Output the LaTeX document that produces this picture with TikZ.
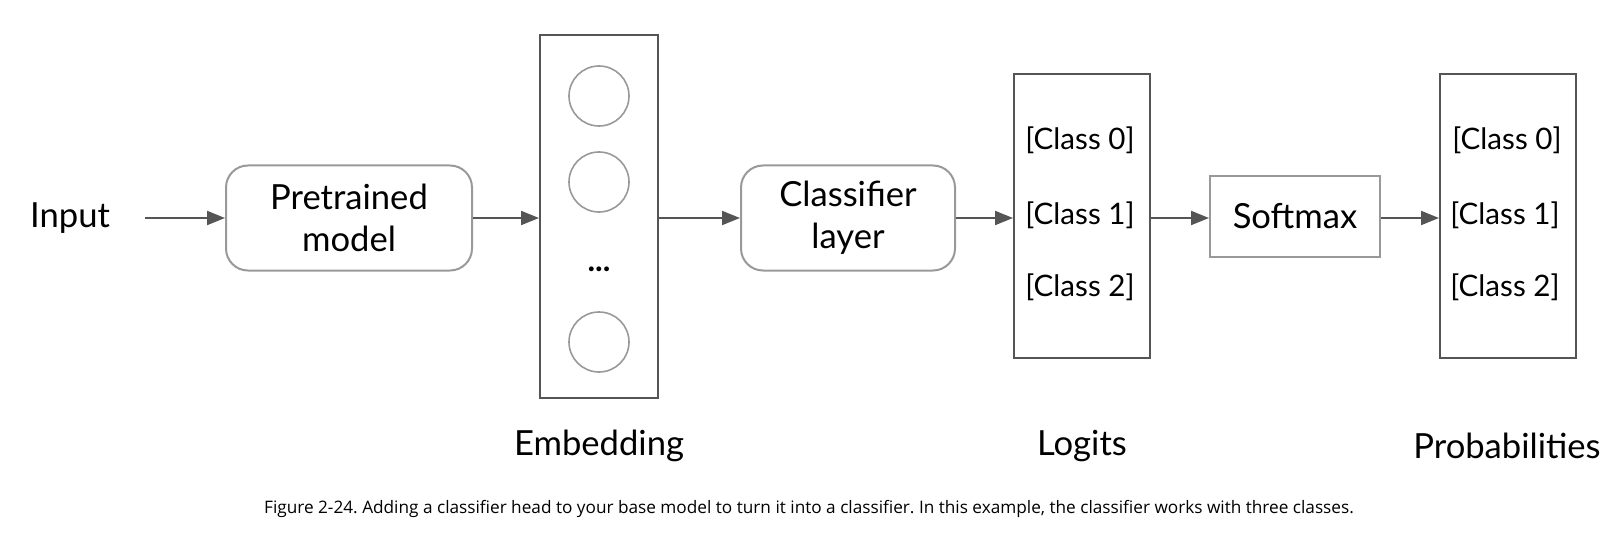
\documentclass[tikz,border=0pt]{standalone}
\usepackage{fontspec}
\setmainfont{Lato}
\newfontfamily\capfont{Open Sans}
\usetikzlibrary{arrows.meta,positioning}
\definecolor{EdgeGray}{RGB}{85,85,85}
\definecolor{SoftGray}{RGB}{153,153,153}
\frenchspacing

\begin{document}
\begin{tikzpicture}[x=0.5pt,y=-0.5pt,>={Triangle[length=9pt,width=7pt]},
    lbl/.style={font=\fontsize{17.3}{21}\selectfont},
    roundbox/.style={lbl,draw=SoftGray,line width=1pt,rounded corners=11pt,
      minimum width=123pt,minimum height=52.5pt,align=center},
    vecbox/.style={draw=EdgeGray,line width=1pt,minimum width=68pt,minimum height=142pt},
    unit/.style={circle,draw=SoftGray,line width=0.8pt,minimum size=30pt,inner sep=0pt},
    cls/.style={font=\fontsize{14.8}{17}\selectfont},
    link/.style={->,draw=EdgeGray,line width=1pt}]
  \useasboundingbox (0,0) rectangle (1618,540);
  % input and base model
  \node[lbl] (input) at (70,218) {Input};
  \node[roundbox] (pre) at (349,218) {Pretrained\\model};
  % embedding vector
  \node[vecbox,minimum width=59pt,minimum height=181.5pt] (emb) at (599,216.5) {};
  \node[unit] (u1) at (599,96) {};
  \node[unit] (u2) at (599,182) {};
  \node[font=\fontsize{16}{18}\bfseries,anchor=base] (udots) at (599,271) {...};
  \node[unit] (u3) at (599,342) {};
  % head
  \node[roundbox,minimum width=107pt] (head) at (848,218) {Classifier\\layer};
  \node[vecbox] (logits) at (1082,216) {};
  \node[cls] (l0) at (1080,140) {[Class 0]};
  \node[cls] (l1) at (1080,215) {[Class 1]};
  \node[cls] (l2) at (1080,287) {[Class 2]};
  \node[lbl,draw=SoftGray,line width=1pt,minimum width=85pt,minimum height=40.5pt] (soft) at (1295,216.5) {Softmax};
  \node[vecbox] (probs) at (1508,216) {};
  \node[cls] (p0) at (1507,140) {[Class 0]};
  \node[cls] (p1) at (1505,215) {[Class 1]};
  \node[cls] (p2) at (1505,287) {[Class 2]};
  % captions under the vectors
  \node[lbl] (embname) at (599,446) {Embedding};
  \node[lbl] (logname) at (1082,446) {Logits};
  \node[lbl] (probname) at (1507,446) {Probabilities};
  \node[font=\capfont\fontsize{8.6}{10}\selectfont] (figcap) at (809,509)
    {Figure 2-24. Adding a classifier head to your base model to turn it into a classifier. In this example, the classifier works with three classes.};
  % connectors
  \draw[link,shorten <=14pt] (pre.west -| input.east) -- (pre.west);
  \draw[link] (pre.east) -- (pre.east -| emb.west);
  \draw[link] (pre.east -| emb.east) -- (pre.east -| head.west);
  \draw[link] (head.east) -- (head.east -| logits.west);
  \draw[link] (head.east -| logits.east) -- (head.east -| soft.west);
  \draw[link] (head.east -| soft.east) -- (head.east -| probs.west);
\end{tikzpicture}
\end{document}
